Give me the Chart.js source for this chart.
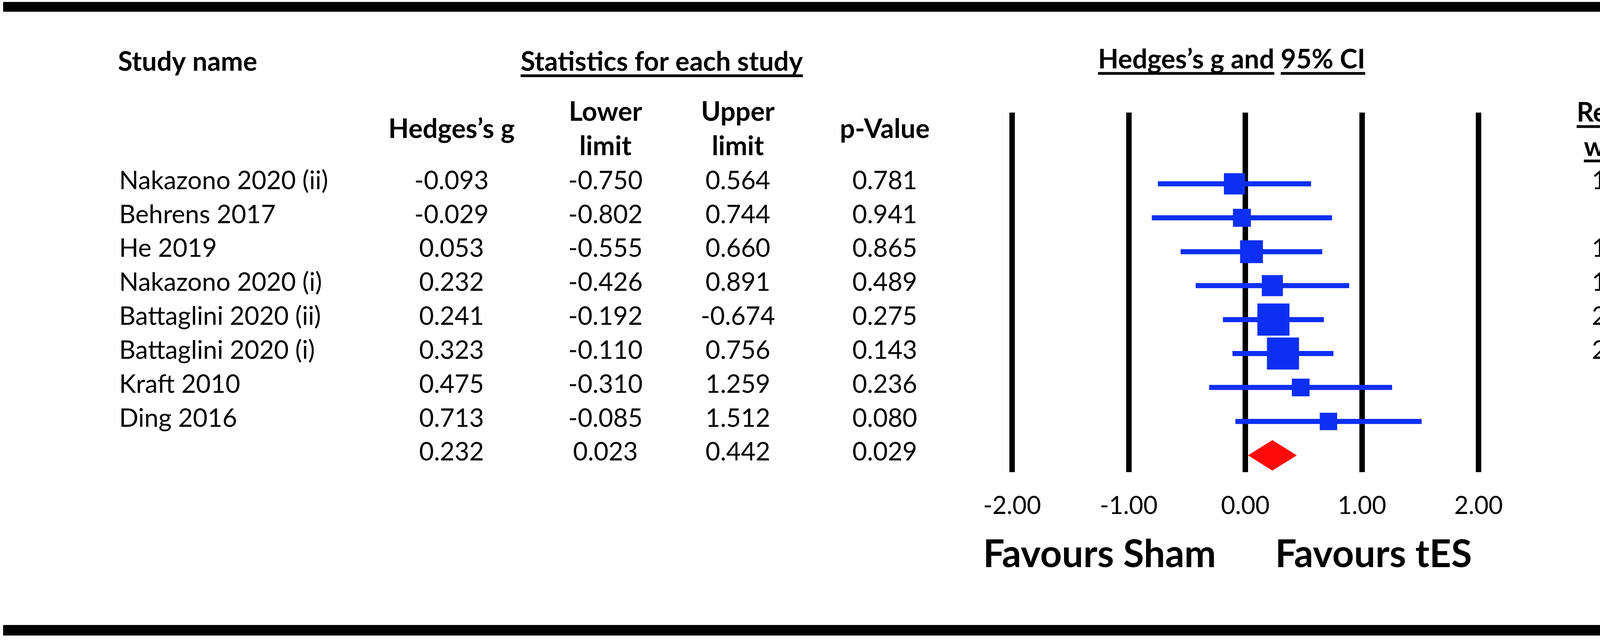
<!DOCTYPE html>
<html>
<head>
<meta charset="utf-8">
<title>Forest plot - Hedges's g</title>
<script src="https://cdn.jsdelivr.net/npm/chart.js@4.4.0/dist/chart.umd.min.js"></script>
<style>
  html, body { margin: 0; padding: 0; background: #fff; }
  canvas { display: block; }
</style>
</head>
<body>
<canvas id="forest" width="4328" height="1640"></canvas>
<script>
// --- 数据 ---
const studies = ['Nakazono 2020 (ii)', 'Behrens 2017', 'He 2019', 'Nakazono 2020 (i)',
  'Battaglini 2020 (ii)', 'Battaglini 2020 (i)', 'Kraft 2010', 'Ding 2016'];
const hedgesG = [-0.093, -0.029, 0.053, 0.232, 0.241, 0.323, 0.475, 0.713];
const lowerLimit = [-0.750, -0.802, -0.555, -0.426, -0.192, -0.110, -0.310, -0.085];
const upperLimit = [0.564, 0.744, 0.660, 0.891, 0.674, 0.756, 1.259, 1.512];
const pValues = [0.781, 0.941, 0.865, 0.489, 0.275, 0.143, 0.236, 0.080];
const relWeight = [10.14, 7.32, 11.84, 10.08, 23.33, 23.32, 7.11, 6.86];

const pooledG = 0.232;
const pooledLower = 0.023;
const pooledUpper = 0.442;
const pooledP = 0.029;

const xTicks = [-2, -1, 0, 1, 2];

// 表格里印出来的上限 (原图 Battaglini 2020 (ii) 印成了负号)
const upperPrinted = upperLimit.map(v => v.toFixed(3));
upperPrinted[4] = '-0.674';

const BLUE = '#0d2ff4';
const RED = '#ff0a0a';
const FONT = 'Lato, "Open Sans", sans-serif';
const BODY_SIZE = 65;
const HEAD_SIZE = 68;
const pooledRow = studies.length;

// --- 绘制辅助 ---
function drawText(ctx, str, x, cy, opt) {
  const size = opt.size || (opt.bold ? HEAD_SIZE : BODY_SIZE);
  ctx.font = (opt.bold ? 'bold ' : '') + size + 'px ' + FONT;
  ctx.fillStyle = '#000';
  ctx.textAlign = opt.align || 'center';
  ctx.textBaseline = 'alphabetic';
  const base = cy + size * 0.36;
  ctx.fillText(str, x, base);
  if (opt.underline) {
    const w = ctx.measureText(str).width;
    let left = x;
    if (ctx.textAlign === 'center') left = x - w / 2;
    else if (ctx.textAlign === 'right') left = x - w;
    const segs = opt.breakAfter
      ? [[0, ctx.measureText(opt.breakAfter).width], [ctx.measureText(opt.breakAfter + ' ').width, w]]
      : [[0, w]];
    segs.forEach(s => ctx.fillRect(left + s[0], base + size * 0.13, s[1] - s[0], 7));
  }
}

const tablePlugin = {
  id: 'forestTable',
  beforeDraw(chart) {
    const ctx = chart.ctx;
    ctx.save();
    ctx.fillStyle = '#fff';
    ctx.fillRect(0, 0, chart.width, chart.height);
    ctx.restore();
  },
  afterDraw(chart) {
    const ctx = chart.ctx;
    const ys = chart.scales.y;
    const xs = chart.scales.x;
    const rowY = i => ys.getPixelForValue(i) - 10;
    const col = { name: 305, g: 1156, lower: 1550, upper: 1889, p: 2265, weight: 4158 };

    ctx.save();
    // 上下粗线
    ctx.fillStyle = '#000';
    ctx.fillRect(8, 5, 4292, 25);
    ctx.fillRect(8, 1599, 4292, 27);

    // 表头
    drawText(ctx, 'Study name', 302, 157, { bold: true, align: 'left' });
    drawText(ctx, 'Statistics for each study', 1694, 157, { bold: true, underline: true });
    drawText(ctx, 'Hedges\u2019s g and 95% CI', 3153, 151, { bold: true, underline: true, breakAfter: 'Hedges\u2019s g and' });
    drawText(ctx, 'Hedges\u2019s g', col.g, 329, { bold: true });
    drawText(ctx, 'Lower', col.lower, 285, { bold: true });
    drawText(ctx, 'limit', col.lower, 373, { bold: true });
    drawText(ctx, 'Upper', col.upper, 285, { bold: true });
    drawText(ctx, 'limit', col.upper, 373, { bold: true });
    drawText(ctx, 'p-Value', col.p, 329, { bold: true });
    drawText(ctx, 'Relative', col.weight, 287, { bold: true, underline: true });
    drawText(ctx, 'weight', col.weight, 375, { bold: true, underline: true });

    // 各研究
    studies.forEach((name, i) => {
      const y = rowY(i);
      drawText(ctx, name, col.name, y, { align: 'left' });
      drawText(ctx, hedgesG[i].toFixed(3), col.g, y, {});
      drawText(ctx, lowerLimit[i].toFixed(3), col.lower, y, {});
      drawText(ctx, upperPrinted[i], col.upper, y, {});
      drawText(ctx, pValues[i].toFixed(3), col.p, y, {});
      drawText(ctx, relWeight[i].toFixed(2), col.weight, y, {});
    });

    // 合并效应
    const py = rowY(pooledRow);
    drawText(ctx, pooledG.toFixed(3), col.g, py, {});
    drawText(ctx, pooledLower.toFixed(3), col.lower, py, {});
    drawText(ctx, pooledUpper.toFixed(3), col.upper, py, {});
    drawText(ctx, pooledP.toFixed(3), col.p, py, {});

    // 方向标签
    drawText(ctx, 'Favours Sham', xs.getPixelForValue(-1.25), 1416, { bold: true, size: 97 });
    drawText(ctx, 'Favours tES', xs.getPixelForValue(1.1), 1416, { bold: true, size: 97 });
    ctx.restore();
  }
};

function buildChart() {
  // 每个研究一条置信区间线段
  const ciSets = studies.map((s, i) => ({
    type: 'line',
    data: [{ x: lowerLimit[i], y: i }, { x: upperLimit[i], y: i }],
    borderColor: BLUE,
    borderWidth: 13,
    borderCapStyle: 'butt',
    pointRadius: 0,
    fill: false
  }));

  const diamond = [
    { x: pooledLower, y: pooledRow },
    { x: pooledG, y: pooledRow - 0.45 },
    { x: pooledUpper, y: pooledRow },
    { x: pooledG, y: pooledRow + 0.45 },
    { x: pooledLower, y: pooledRow }
  ];

  const squareRadius = relWeight.map(w => 17 * Math.sqrt(w) / Math.SQRT2);

  new Chart(document.getElementById('forest'), {
    type: 'scatter',
    data: {
      datasets: [
        {
          type: 'scatter',
          data: hedgesG.map((g, i) => ({ x: g, y: i })),
          pointStyle: 'rect',
          pointRadius: squareRadius,
          pointHoverRadius: squareRadius,
          backgroundColor: BLUE,
          borderWidth: 0
        },
        ...ciSets,
        {
          type: 'line',
          data: diamond,
          borderWidth: 0,
          borderColor: RED,
          backgroundColor: RED,
          pointRadius: 0,
          tension: 0,
          fill: 'shape'
        }
      ]
    },
    options: {
      responsive: false,
      animation: false,
      devicePixelRatio: 1,
      layout: { padding: { left: 2591, right: 543, top: 288, bottom: 260 } },
      plugins: { legend: { display: false }, tooltip: { enabled: false } },
      scales: {
        x: {
          type: 'linear',
          min: -2,
          max: 2,
          afterBuildTicks: s => { s.ticks = xTicks.map(v => ({ value: v })); },
          grid: { color: '#000', lineWidth: 14, drawTicks: false },
          border: { display: false },
          ticks: {
            color: '#000',
            padding: 48,
            font: { family: FONT, size: 63 },
            maxRotation: 0,
            callback: v => Number(v).toFixed(2)
          }
        },
        y: {
          type: 'linear',
          display: false,
          reverse: true,
          min: -2.1,
          max: 8.5
        }
      }
    },
    plugins: [tablePlugin]
  });
}

// --- 启动 ---
if (document.fonts && document.fonts.load) {
  Promise.all([
    document.fonts.load('64px Lato'),
    document.fonts.load('bold 64px Lato')
  ]).then(buildChart, buildChart);
} else {
  buildChart();
}
</script>
</body>
</html>
